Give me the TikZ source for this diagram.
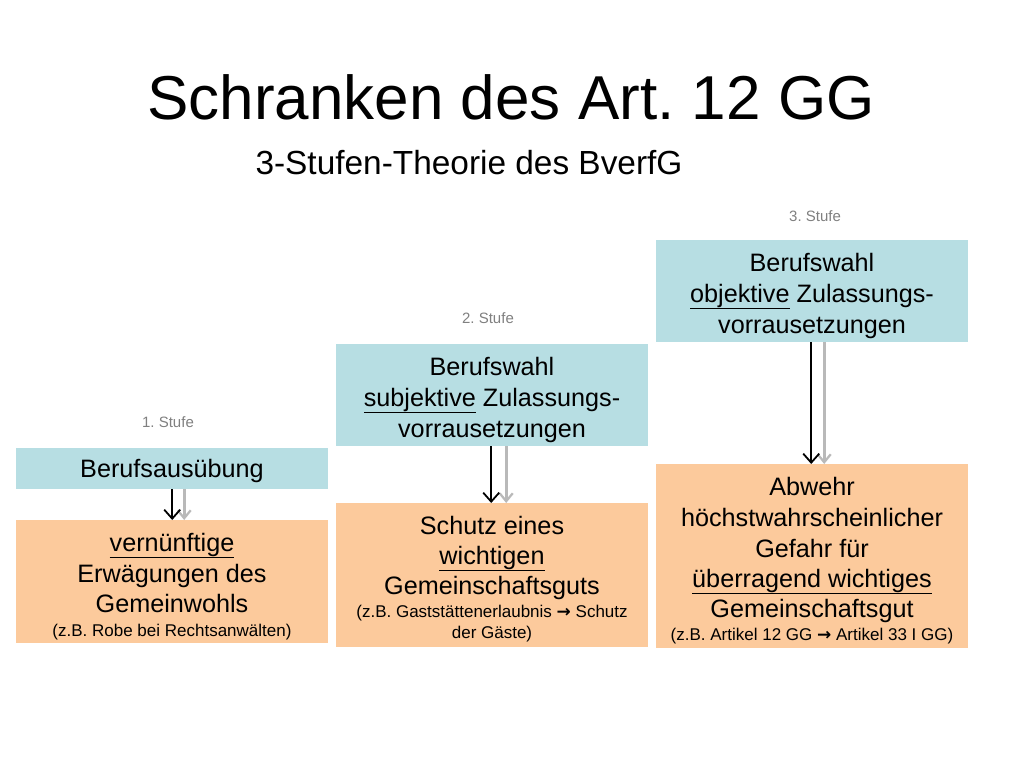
\documentclass[tikz,border=0pt]{standalone}
\usepackage{fontspec}
\setmainfont{Liberation Sans}
\newfontfamily\arrowfont{DejaVu Sans}
\usetikzlibrary{arrows.meta}
\definecolor{boxblue}{HTML}{B7DEE3}
\definecolor{boxorange}{HTML}{FCCA9C}
\definecolor{lblgray}{HTML}{808080}
\newcommand{\rarr}{{\arrowfont\bfseries →}}
\frenchspacing
\begin{document}
\begin{tikzpicture}[x=1pt,y=-1pt,
  box/.style={draw=none,inner sep=0pt,minimum width=312pt,anchor=north west},
  bluebox/.style={box,fill=boxblue},
  orangebox/.style={box,fill=boxorange},
  big/.style={anchor=base,inner sep=0pt,font=\fontsize{25.2}{29}\selectfont},
  small/.style={anchor=base,inner sep=0pt,font=\fontsize{17}{20}\selectfont},
  lbl/.style={anchor=base,inner sep=0pt,text=lblgray,font=\fontsize{15}{18}\selectfont},
  blackarr/.style={draw=black,line width=1.8pt,-{Straight Barb[length=9pt,width=16pt,line width=1.8pt]}},
  grayarr/.style={draw=gray!55,line width=3pt,-{Straight Barb[length=8pt,width=13pt,line width=2.2pt]}}
]
\useasboundingbox (0,0) rectangle (1024,768);
\fill[white] (0,0) rectangle (1024,768);

\node[anchor=base,inner sep=0pt,font=\fontsize{62}{70}\selectfont] (title) at (511,119) {Schranken des Art. 12 GG};
\node[anchor=base,inner sep=0pt,font=\fontsize{33.4}{38}\selectfont] (subtitle) at (469,174) {3-Stufen-Theorie des BverfG};

% Boxes
\node[bluebox,minimum height=41pt] (b1) at (16,448) {};
\node[orangebox,minimum height=123pt] (o1) at (16,520) {};
\node[bluebox,minimum height=102pt] (b2) at (336,344) {};
\node[orangebox,minimum height=144pt] (o2) at (336,503) {};
\node[bluebox,minimum height=102pt] (b3) at (656,240) {};
\node[orangebox,minimum height=184pt] (o3) at (656,464) {};

% Stage labels
\node[lbl] (l1) at (168,427) {1. Stufe};
\node[lbl] (l2) at (488,323) {2. Stufe};
\node[lbl] (l3) at (815,221) {3. Stufe};

% Stage 1
\node[big] (b1a) at (172,477) {Berufsausübung};
\node[big] (o1a) at (172,551) {\underline{vernünftige}};
\node[big] (o1b) at (172,582) {Erwägungen des};
\node[big] (o1c) at (172,612) {Gemeinwohls};
\node[small] (o1d) at (172,636) {(z.B. Robe bei Rechtsanwälten)};

% Stage 2
\node[big] (b2a) at (492,375) {Berufswahl};
\node[big] (b2b) at (492,406) {\underline{subjektive} Zulassungs-};
\node[big] (b2c) at (492,437) {vorrausetzungen};
\node[big] (o2a) at (492,534) {Schutz eines};
\node[big] (o2b) at (492,564) {\underline{wichtigen}};
\node[big] (o2c) at (492,594) {Gemeinschaftsguts};
\node[small] (o2d) at (492,617) {(z.B. Gaststättenerlaubnis \rarr{} Schutz};
\node[small] (o2e) at (492,638) {der Gäste)};

% Stage 3
\node[big] (b3a) at (812,271) {Berufswahl};
\node[big] (b3b) at (812,302) {\underline{objektive} Zulassungs-};
\node[big] (b3c) at (812,333) {vorrausetzungen};
\node[big] (o3a) at (812,495) {Abwehr};
\node[big] (o3b) at (812,526) {höchstwahrscheinlicher};
\node[big] (o3c) at (812,557) {Gefahr für};
\node[big] (o3d) at (812,587) {\underline{überragend wichtiges}};
\node[big] (o3e) at (812,617) {Gemeinschaftsgut};
\node[small] (o3f) at (812,640) {(z.B. Artikel 12 GG \rarr{} Artikel 33 I GG)};

% Arrows
\draw[grayarr] ([xshift=12pt]b1.south) -- ([xshift=12pt]o1.north);
\draw[blackarr] (b1.south) -- (o1.north);
\draw[grayarr] ([xshift=14pt]b2.south) -- ([xshift=14pt]o2.north);
\draw[blackarr] ([xshift=-1pt]b2.south) -- ([xshift=-1pt]o2.north);
\draw[grayarr] ([xshift=12pt]b3.south) -- ([xshift=12pt]o3.north);
\draw[blackarr] ([xshift=-1pt]b3.south) -- ([xshift=-1pt]o3.north);
\end{tikzpicture}
\end{document}
